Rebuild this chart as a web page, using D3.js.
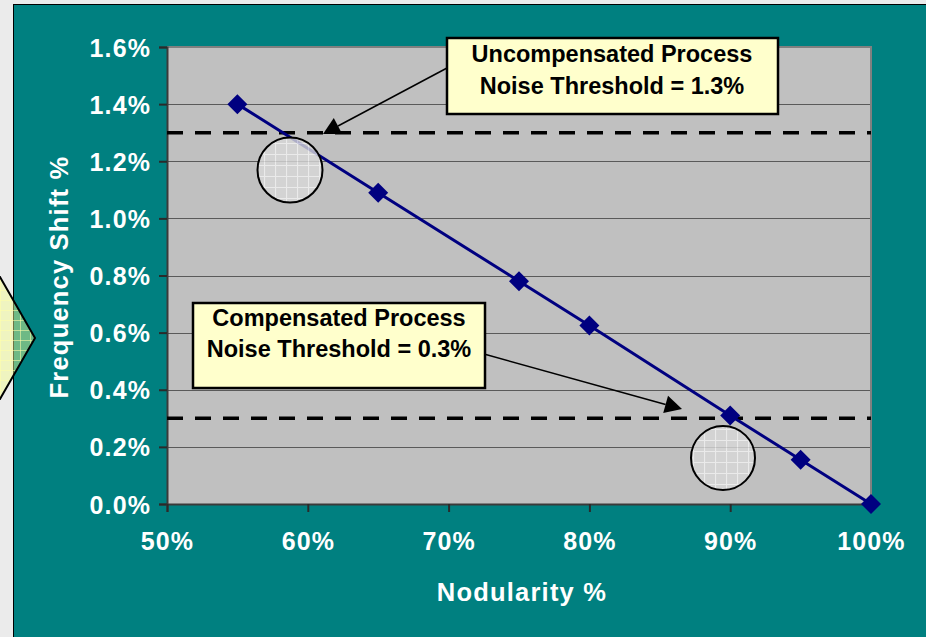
<!DOCTYPE html>
<html>
<head>
<meta charset="utf-8">
<script src="https://cdn.jsdelivr.net/npm/d3@7/dist/d3.min.js"></script>
<style>
  html, body { margin: 0; padding: 0; background: #ebebeb; }
  svg { display: block; }
  text { font-family: "Liberation Sans", Arial, sans-serif; font-weight: bold; }
</style>
</head>
<body>
<svg id="chart" width="926" height="637"></svg>
<script>
// Frequency shift measured against nodularity
const nodularity = [0.55, 0.65, 0.75, 0.80, 0.90, 0.95, 1.00];
const freqShift  = [0.0140, 0.0109, 0.0078, 0.00625, 0.0031, 0.00155, 0.0];

const xTicks = [0.5, 0.6, 0.7, 0.8, 0.9, 1.0];
const yTicks = [0, 0.002, 0.004, 0.006, 0.008, 0.010, 0.012, 0.014, 0.016];

// Noise thresholds drawn as dashed reference lines
const thresholdNames  = ["Uncompensated Process", "Compensated Process"];
const thresholdValues = [0.013, 0.003];

const W = 926, H = 637;
const plot = { left: 167, right: 871, top: 47, bottom: 504 };

const svg = d3.select("#chart");

const x = d3.scaleLinear().domain([0.5, 1.0]).range([plot.left, plot.right]);
const y = d3.scaleLinear().domain([0, 0.016]).range([plot.bottom, plot.top]);

const defs = svg.append("defs");

// grid fill used by the callout circles
const circPat = defs.append("pattern").attr("id", "circGrid")
  .attr("patternUnits", "userSpaceOnUse").attr("width", 11).attr("height", 11);
circPat.append("rect").attr("width", 11).attr("height", 11).attr("fill", "#d8d8d8");
circPat.append("path").attr("d", "M0,0.5H11M0.5,0V11").attr("stroke", "#f4f4f4").attr("stroke-width", 1.2);

// translucent grid fill used by the side chevron
const chevPat = defs.append("pattern").attr("id", "chevGrid")
  .attr("patternUnits", "userSpaceOnUse").attr("width", 10).attr("height", 10);
chevPat.append("rect").attr("width", 10).attr("height", 10).attr("fill", "rgba(245,255,140,0.45)");
chevPat.append("path").attr("d", "M0,0.5H10M0.5,0V10").attr("stroke", "rgba(255,255,170,0.55)").attr("stroke-width", 1);

// teal panel
svg.append("rect")
  .attr("x", 13.5).attr("y", 4.5).attr("width", W).attr("height", H)
  .attr("fill", "#008080").attr("stroke", "#000").attr("stroke-width", 1);

// side chevron
svg.append("path")
  .attr("d", "M-40,277 L0,277 L35,338 L0,399 L-40,399 Z")
  .attr("fill", "url(#chevGrid)").attr("stroke", "#000").attr("stroke-width", 2);

// plot background
svg.append("rect")
  .attr("x", plot.left).attr("y", plot.top)
  .attr("width", plot.right - plot.left).attr("height", plot.bottom - plot.top)
  .attr("fill", "#c0c0c0");

// horizontal gridlines
svg.append("g").selectAll("line")
  .data(yTicks.slice(1, -1)).join("line")
  .attr("x1", plot.left).attr("x2", plot.right)
  .attr("y1", d => Math.round(y(d)) + 0.5).attr("y2", d => Math.round(y(d)) + 0.5)
  .attr("stroke", "#5a5a5a").attr("stroke-width", 1);

// top and right frame
svg.append("path")
  .attr("d", `M${plot.left},${plot.top} H${plot.right} V${plot.bottom}`)
  .attr("fill", "none").attr("stroke", "#808080").attr("stroke-width", 2);

// axes
const yAxis = d3.axisLeft(y).tickValues(yTicks).tickSize(8).tickPadding(8)
  .tickFormat(d3.format(".1%"));
const xAxis = d3.axisBottom(x).tickValues(xTicks).tickSize(8).tickPadding(20)
  .tickFormat(d3.format(".0%"));

const gy = svg.append("g").attr("transform", `translate(${plot.left},0)`).call(yAxis);
const gx = svg.append("g").attr("transform", `translate(0,${plot.bottom})`).call(xAxis);

[gx, gy].forEach(g => {
  g.select(".domain").attr("stroke", "#3a3a3a").attr("stroke-width", 2);
  g.selectAll(".tick line").attr("stroke", "#2a2a2a").attr("stroke-width", 2);
  g.selectAll(".tick text")
    .attr("fill", "#fff").attr("font-size", 25)
    .style("letter-spacing", "1.1px")
    .attr("font-family", "Liberation Sans, Arial, sans-serif").attr("font-weight", "bold");
});
gy.selectAll(".tick text").attr("dy", "0.36em");

// axis titles
svg.append("text")
  .attr("x", 522).attr("y", 601).attr("text-anchor", "middle")
  .attr("fill", "#fff").attr("font-size", 25.5).style("letter-spacing", "1.2px")
  .text("Nodularity %");
svg.append("text")
  .attr("transform", "translate(68,277) rotate(-90)").attr("text-anchor", "middle")
  .attr("fill", "#fff").attr("font-size", 25.5).style("letter-spacing", "1.2px")
  .text("Frequency Shift %");

// threshold dashed lines
svg.append("g").selectAll("line")
  .data(thresholdValues).join("line")
  .attr("x1", plot.left).attr("x2", plot.right)
  .attr("y1", d => y(d)).attr("y2", d => y(d))
  .attr("stroke", "#000").attr("stroke-width", 3.5)
  .attr("stroke-dasharray", "16,12");

// data series
const pts = nodularity.map((n, i) => [n, freqShift[i]]);
svg.append("path")
  .datum(pts)
  .attr("d", d3.line().x(d => x(d[0])).y(d => y(d[1])))
  .attr("fill", "none").attr("stroke", "#000080").attr("stroke-width", 3);

svg.append("g").selectAll("path")
  .data(pts).join("path")
  .attr("transform", d => `translate(${x(d[0])},${y(d[1])})`)
  .attr("d", "M0,-10 L10,0 L0,10 L-10,0 Z")
  .attr("fill", "#000080");

// callout circles
const circles = [[290, 170, 32.5], [723, 458, 32]];
svg.append("g").selectAll("circle")
  .data(circles).join("circle")
  .attr("cx", d => d[0]).attr("cy", d => d[1]).attr("r", d => d[2])
  .attr("fill", "url(#circGrid)").attr("fill-opacity", 0.8)
  .attr("stroke", "#000").attr("stroke-width", 2);

// arrows from the text boxes to the threshold lines
function arrow(x1, y1, x2, y2) {
  const a = Math.atan2(y2 - y1, x2 - x1);
  const len = 17, half = 9;
  const bx = x2 - len * Math.cos(a), by = y2 - len * Math.sin(a);
  svg.append("line")
    .attr("x1", x1).attr("y1", y1).attr("x2", bx).attr("y2", by)
    .attr("stroke", "#000").attr("stroke-width", 1.5);
  svg.append("path")
    .attr("d", `M${x2},${y2} L${bx - half * Math.sin(a)},${by + half * Math.cos(a)} L${bx + half * Math.sin(a)},${by - half * Math.cos(a)} Z`)
    .attr("fill", "#000");
}
arrow(447, 68, 323, 134);
arrow(484, 354, 682, 409);

// text boxes
const boxes = [
  { x: 447, y: 38, w: 331, h: 76, cx: 612, lines: [thresholdNames[0], "Noise Threshold = 1.3%"], base: [62, 94] },
  { x: 193, y: 303, w: 292, h: 85, cx: 339, lines: [thresholdNames[1], "Noise Threshold = 0.3%"], base: [326, 357] }
];
boxes.forEach(b => {
  svg.append("rect")
    .attr("x", b.x).attr("y", b.y).attr("width", b.w).attr("height", b.h)
    .attr("fill", "#ffffcc").attr("stroke", "#000").attr("stroke-width", 2.5);
  b.lines.forEach((t, i) => {
    svg.append("text")
      .attr("x", b.cx).attr("y", b.base[i]).attr("text-anchor", "middle")
      .attr("fill", "#000").attr("font-size", 23.5)
      .text(t);
  });
});
</script>
</body>
</html>
